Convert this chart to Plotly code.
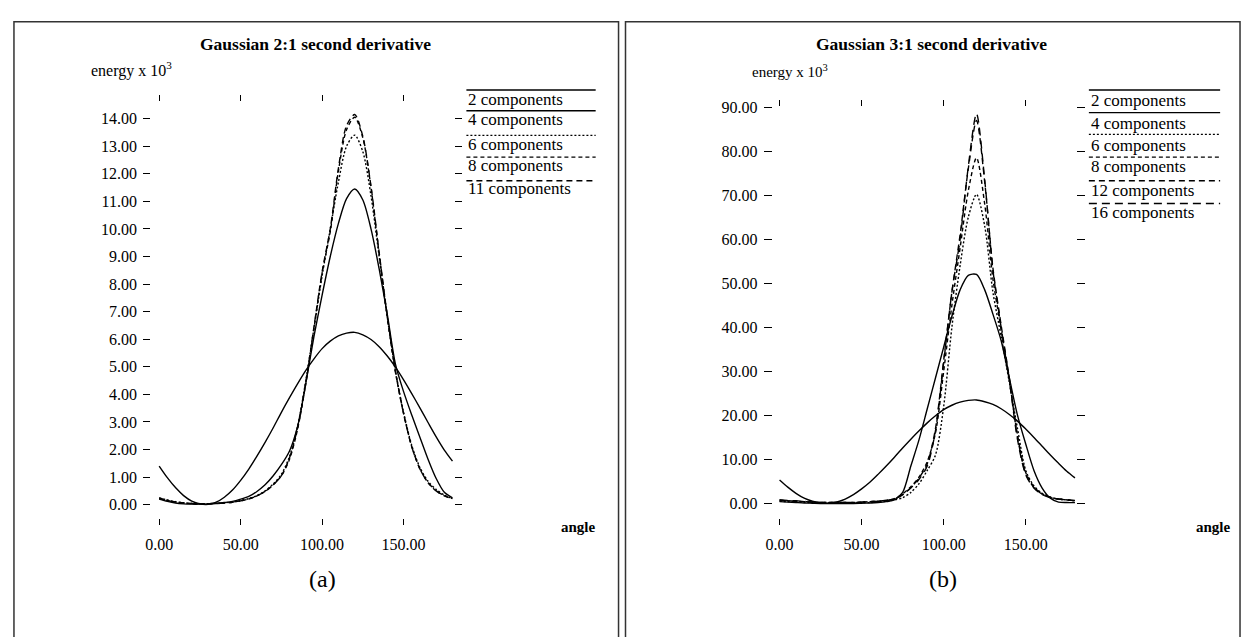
import plotly.graph_objects as go

# angle samples (degrees) shared by every curve
angle = [0, 5, 10, 15, 20, 25, 30, 35, 40, 45, 50, 55, 60, 65, 70, 75, 80, 85, 90,
         95, 100, 105, 110, 115, 120, 125, 130, 135, 140, 145, 150, 155, 160, 165,
         170, 175, 180]

# panel (a): Gaussian 2:1 second derivative, energy x 10^3
a_2 = [1.40, 0.98, 0.62, 0.33, 0.13, 0.03, 0.01, 0.09, 0.27, 0.53, 0.88, 1.29, 1.76,
       2.26, 2.79, 3.35, 3.88, 4.39, 4.87, 5.29, 5.66, 5.93, 6.12, 6.22, 6.25, 6.16,
       5.99, 5.73, 5.39, 4.99, 4.53, 4.03, 3.51, 2.98, 2.46, 1.98, 1.58]
a_4 = [0.20, 0.12, 0.06, 0.03, 0.02, 0.02, 0.03, 0.05, 0.08, 0.12, 0.20, 0.30, 0.48,
       0.72, 1.05, 1.45, 1.95, 2.85, 4.40, 6.10, 7.60, 9.00, 10.20, 11.10, 11.45,
       11.05, 10.00, 8.55, 6.90, 5.10, 4.10, 3.25, 2.45, 1.65, 0.95, 0.45, 0.25]
a_6 = [0.25, 0.17, 0.11, 0.07, 0.05, 0.04, 0.04, 0.05, 0.07, 0.10, 0.15, 0.22, 0.33,
       0.50, 0.75, 1.10, 1.75, 2.85, 4.50, 6.40, 8.30, 10.00, 11.70, 13.00, 13.40,
       12.80, 11.20, 9.00, 6.80, 4.85, 3.35, 2.15, 1.35, 0.85, 0.55, 0.35, 0.22]
a_8 = [0.25, 0.16, 0.10, 0.06, 0.04, 0.03, 0.03, 0.04, 0.06, 0.09, 0.14, 0.21, 0.32,
       0.48, 0.72, 1.05, 1.65, 2.75, 4.40, 6.40, 8.40, 9.90, 12.10, 13.60, 14.05,
       13.30, 11.50, 9.10, 6.80, 4.80, 3.30, 2.10, 1.30, 0.80, 0.50, 0.33, 0.22]
a_11 = [0.22, 0.15, 0.09, 0.06, 0.04, 0.03, 0.03, 0.04, 0.06, 0.09, 0.14, 0.21, 0.32,
        0.48, 0.72, 1.05, 1.70, 2.80, 4.45, 6.45, 8.45, 10.00, 12.20, 13.75, 14.15,
        13.35, 11.55, 9.15, 6.85, 4.85, 3.30, 2.10, 1.30, 0.80, 0.50, 0.32, 0.20]

# panel (b): Gaussian 3:1 second derivative, energy x 10^3
b_2 = [5.3, 3.7, 2.3, 1.2, 0.5, 0.1, 0.03, 0.35, 1.0, 2.0, 3.3, 4.8, 6.6, 8.5, 10.5,
       12.6, 14.6, 16.5, 18.3, 19.9, 21.3, 22.3, 23.0, 23.4, 23.5, 23.1, 22.5, 21.5,
       20.2, 18.7, 16.9, 15.0, 13.0, 11.0, 9.1, 7.3, 5.8]
b_4 = [0.4, 0.3, 0.2, 0.1, 0.05, 0.0, 0.0, 0.0, 0.0, 0.0, 0.05, 0.1, 0.2, 0.4, 0.8,
       2.5, 8.5, 14.5, 21.5, 28.5, 35.5, 42.5, 48.5, 51.8, 52.0, 48.5, 43.0, 37.0,
       28.5, 20.0, 13.5, 7.5, 3.5, 1.2, 0.3, 0.2, 0.2]
b_6 = [0.5, 0.4, 0.3, 0.25, 0.2, 0.15, 0.1, 0.1, 0.1, 0.1, 0.15, 0.2, 0.3, 0.5, 0.8,
       1.3, 2.5, 4.5, 7.5, 11.0, 22.0, 40.0, 54.0, 65.0, 70.2, 63.0, 48.0, 38.0,
       27.5, 17.0, 7.5, 4.0, 2.3, 1.4, 1.0, 0.8, 0.6]
b_8 = [0.8, 0.6, 0.5, 0.4, 0.3, 0.25, 0.2, 0.2, 0.2, 0.2, 0.3, 0.4, 0.5, 0.7, 1.1,
       2.2, 3.8, 6.0, 9.5, 16.0, 30.0, 45.0, 58.0, 71.0, 78.5, 68.0, 51.0, 39.5,
       28.0, 15.5, 7.0, 3.8, 2.2, 1.4, 1.0, 0.8, 0.6]
b_12 = [0.7, 0.6, 0.5, 0.4, 0.3, 0.2, 0.2, 0.2, 0.2, 0.2, 0.3, 0.4, 0.5, 0.7, 1.0,
        2.0, 3.6, 5.8, 9.0, 17.0, 32.5, 48.0, 61.0, 76.0, 87.0, 73.0, 53.5, 40.5,
        28.5, 15.0, 6.8, 3.6, 2.1, 1.4, 1.0, 0.8, 0.6]
b_16 = [0.8, 0.7, 0.6, 0.45, 0.3, 0.25, 0.2, 0.2, 0.2, 0.25, 0.3, 0.4, 0.5, 0.7, 1.0,
        2.0, 3.5, 5.5, 8.5, 16.5, 32.0, 48.0, 60.0, 76.5, 88.5, 73.5, 53.0, 40.0,
        28.0, 14.5, 6.5, 3.5, 2.0, 1.3, 1.0, 0.8, 0.7]

labels_a = ["2 components", "4 components", "6 components", "8 components", "11 components"]
labels_b = ["2 components", "4 components", "6 components", "8 components",
            "12 components", "16 components"]

W, H = 1244, 637
SERIF = "Liberation Serif"


def px(x):
    return x / W


def py(y):
    return 1 - y / H


dash_a = ["solid", "solid", "2px,2px", "4px,3px", "6px,4px"]
dash_b = ["solid", "solid", "2px,2px", "4px,3px", "6px,4px", "8px,5px"]

fig = go.Figure()

for vals, dash in zip([a_2, a_4, a_6, a_8, a_11], dash_a):
    fig.add_trace(go.Scatter(
        x=angle, y=vals, mode="lines", xaxis="x", yaxis="y",
        line=dict(color="black", width=1.4, dash=dash, shape="spline", smoothing=0.8),
        showlegend=False, hoverinfo="skip"))

for vals, dash in zip([b_2, b_4, b_6, b_8, b_12, b_16], dash_b):
    fig.add_trace(go.Scatter(
        x=angle, y=vals, mode="lines", xaxis="x2", yaxis="y2",
        line=dict(color="black", width=1.4, dash=dash, shape="spline", smoothing=0.8),
        showlegend=False, hoverinfo="skip"))

axis_style = dict(
    showgrid=False, zeroline=False, showline=False,
    ticks="outside", tickcolor="black", tickwidth=1.2, mirror="ticks",
    tickformat=".2f", tickfont=dict(family=SERIF, size=16, color="black"),
)

fig.update_layout(
    width=W, height=H,
    margin=dict(l=0, r=0, t=0, b=0),
    paper_bgcolor="white", plot_bgcolor="white",
    showlegend=False,
    xaxis=dict(axis_style, domain=[px(145), px(449.8)], range=[-4.9, 181.1],
               tickvals=[0, 50, 100, 150], ticklen=6, ticklabelstandoff=6, anchor="y"),
    yaxis=dict(axis_style, domain=[py(516), py(95)], range=[-0.465, 14.61],
               tick0=0, dtick=1, ticklen=7, ticklabelstandoff=3, anchor="x"),
    xaxis2=dict(axis_style, domain=[px(770), px(1075)], range=[-4.2, 180.6],
                tickvals=[0, 50, 100, 150], ticklen=6, ticklabelstandoff=6, anchor="y2"),
    yaxis2=dict(axis_style, domain=[py(516), py(100)], range=[-3.2, 90.1],
                tick0=0, dtick=10, ticklen=8, ticklabelstandoff=3, anchor="x2"),
)

shapes = [
    # panel frames
    dict(type="rect", xref="paper", yref="paper", x0=px(7), x1=px(615), y0=py(660), y1=py(14),
         line=dict(color="#333", width=1.5)),
    dict(type="rect", xref="paper", yref="paper", x0=px(622), x1=px(1240), y0=py(660), y1=py(14),
         line=dict(color="#333", width=1.5)),
]

annotations = []


def text(x, y, s, size=15, xanchor="center", bold=False):
    annotations.append(dict(
        x=px(x), y=py(y), xref="paper", yref="paper", text=f"<b>{s}</b>" if bold else s,
        showarrow=False, xanchor=xanchor, yanchor="middle",
        font=dict(family=SERIF, size=size, color="black")))


# legend samples (line drawn above each label)
for i, (lab, dash) in enumerate(zip(labels_a, dash_a)):
    ly = [83, 104, 129, 151, 175][i]
    ty = [93, 113, 138, 160, 183][i]
    shapes.append(dict(type="line", xref="paper", yref="paper", x0=px(462), x1=px(592),
                       y0=py(ly), y1=py(ly), line=dict(color="black", width=1.4, dash=dash)))
    text(462, ty, lab, size=17, xanchor="left")

for i, (lab, dash) in enumerate(zip(labels_b, dash_b)):
    ly = [83, 106, 128, 151, 175, 198][i]
    ty = [94, 117, 139, 161, 185, 207][i]
    shapes.append(dict(type="line", xref="paper", yref="paper", x0=px(1088), x1=px(1220),
                       y0=py(ly), y1=py(ly), line=dict(color="black", width=1.4, dash=dash)))
    text(1088, ty, lab, size=17, xanchor="left")

text(310, 36, "Gaussian 2:1 second derivative", size=17.5, bold=True)
text(930, 36, "Gaussian 3:1 second derivative", size=17.5, bold=True)
text(82, 62, "energy x 10<sup>3</sup>", size=16, xanchor="left")
text(747, 64, "energy x 10<sup>3</sup>", size=15, xanchor="left")
text(575, 526, "angle", size=15, bold=True)
text(1213, 526, "angle", size=15, bold=True)
text(317, 578, "(a)", size=24)
text(941, 578, "(b)", size=24)

fig.update_layout(shapes=shapes, annotations=annotations)

# drop the browser's default body margin so the figure sits at the page origin
fig.write_html("out.html", config={"displayModeBar": False},
               post_script="document.body.style.margin = '0';")
